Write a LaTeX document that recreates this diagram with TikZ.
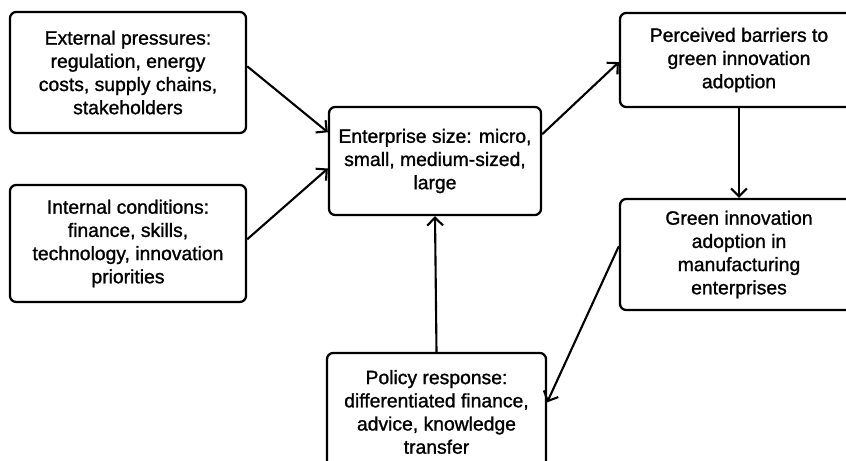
\documentclass[tikz,border=0pt]{standalone}
\usepackage{fontspec}
\setmainfont{Liberation Sans}
\newfontfamily\boxfont{Liberation Sans}[FakeBold=1.2]
\usetikzlibrary{arrows.meta}

\begin{document}
\begin{tikzpicture}[
        factor/.style={rectangle, rounded corners=3.5pt, draw=black, line width=1.3pt, fill=white, align=center, font=\boxfont\fontsize{11}{13.2}\selectfont},
        flow/.style={line width=1.2pt, -{Straight Barb[length=4.5pt, width=9pt, line width=1.2pt]}},
        ]
            \clip (0,0) rectangle (16.92,-9.22);
            \fill[white] (0,0) rectangle (16.92,-9.22);

            \node[factor, minimum width=4.72cm, minimum height=2.42cm] (ext) at (2.56,-1.45) {External pressures:\\
                             regulation, energy\\
                             costs, supply chains,\\
                             stakeholders};
            \node[factor, minimum width=4.72cm, minimum height=2.34cm] (int) at (2.56,-4.87) {Internal conditions:\\
                             finance, skills,\\
                             technology, innovation\\
                             priorities};
            \node[factor, minimum width=4.24cm, minimum height=2.16cm] (size) at (8.70,-3.22) {Enterprise size: micro,\\
                             small, medium-sized,\\
                             large};
            \node[factor, minimum width=4.76cm, minimum height=1.88cm] (barrier) at (14.78,-1.20) {Perceived barriers to\\
                             green innovation\\
                             adoption};
            \node[factor, minimum width=4.76cm, minimum height=2.22cm] (adopt) at (14.78,-5.09) {Green innovation\\
                             adoption in\\
                             manufacturing\\
                             enterprises};
            \node[factor, minimum width=4.38cm, minimum height=2.36cm] (policy) at (8.73,-8.24) {Policy response:\\
                             differentiated finance,\\
                             advice, knowledge\\
                             transfer};

            % \draw[black, thin] (size.south) -- (policy.north);
            \draw[flow] (ext.3.6) -- (size.165.5);
            \draw[flow] (int.2.7) -- (size.184.8);
            \draw[flow] (size.14.7) -- (barrier.181.4);
            \draw[flow] (barrier.south) -- (adopt.north);
            \draw[flow] (adopt.176.4) -- (policy.5.2);
            \draw[flow] (policy.north) -- (size.south);
        \end{tikzpicture}
\end{document}
